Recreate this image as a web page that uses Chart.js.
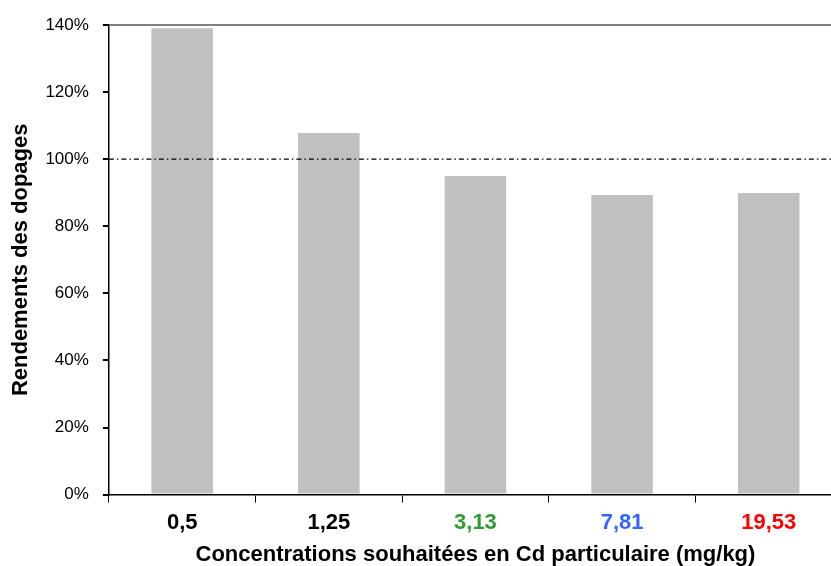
<!DOCTYPE html>
<html>
<head>
<meta charset="utf-8">
<script src="https://cdn.jsdelivr.net/npm/chart.js@4/dist/chart.umd.min.js"></script>
<style>
    html, body { margin: 0; padding: 0; background: #fff; overflow: hidden; width: 831px; height: 566px; }
    #wrap { width: 842px; height: 566px; }
</style>
</head>
<body>
<div id="wrap"><canvas id="chartDopage" width="842" height="566"></canvas></div>
<script>
// donnees
const categories = ['0,5', '1,25', '3,13', '7,81', '19,53']
const rendements = [139, 107.8, 95, 89.3, 89.9]
const labelColors = ['#000000', '#000000', '#339933', '#3366ff', '#ff0000']
const yTicks = [0, 20, 40, 60, 80, 100, 120, 140]
const reference = 100

// ligne tiretee a 100%
const refLine = {
    id: 'refLine',
    afterDatasetsDraw(chart) {
        let ctx = chart.ctx
        let area = chart.chartArea
        let y = chart.scales.y.getPixelForValue(reference)
        ctx.save()
        ctx.strokeStyle = '#000'
        ctx.lineWidth = 1.2
        ctx.setLineDash([5, 3, 1.5, 3])
        ctx.beginPath()
        ctx.moveTo(area.left, y)
        ctx.lineTo(area.right, y)
        ctx.stroke()
        ctx.restore()
    }
}

new Chart(document.getElementById('chartDopage'), {
    type: 'bar',
    data: {
        labels: categories,
        datasets: [{
            label: 'Rendements',
            data: rendements,
            backgroundColor: '#c0c0c0',
            categoryPercentage: 1,
            barPercentage: 0.42
        }]
    },
    options: {
        responsive: false,
        animation: false,
        layout: { padding: { top: 25, right: 0, left: 8, bottom: 0 } },
        plugins: {
            legend: { display: false },
            tooltip: { enabled: false }
        },
        scales: {
            x: {
                grid: {
                    offset: true,
                    drawOnChartArea: false,
                    tickLength: 8,
                    tickColor: '#000'
                },
                border: { color: '#000', width: 1.5 },
                ticks: {
                    color: ctx => labelColors[ctx.index],
                    font: { family: 'Liberation Sans', size: 22, weight: 'bold', lineHeight: 0.7 },
                    padding: 13
                },
                title: {
                    display: true,
                    text: 'Concentrations souhaitées en Cd particulaire (mg/kg)',
                    color: '#000',
                    font: { family: 'Liberation Sans', size: 22, weight: 'bold', lineHeight: 1.0 },
                    padding: { top: 0, bottom: 0 }
                }
            },
            y: {
                min: 0,
                max: 140,
                afterBuildTicks: axis => { axis.ticks = yTicks.map(v => ({ value: v })) },
                grid: {
                    color: ctx => ctx.tick && ctx.tick.value === 140 ? '#808080' : 'rgba(0,0,0,0)',
                    lineWidth: 2,
                    tickColor: '#000',
                    tickLength: 6
                },
                border: { color: '#000', width: 1.5 },
                ticks: {
                    color: '#000',
                    font: { family: 'Liberation Sans', size: 17 },
                    padding: 14,
                    callback: v => v + '%'
                },
                title: {
                    display: true,
                    text: 'Rendements des dopages',
                    color: '#000',
                    font: { family: 'Liberation Sans', size: 22, weight: 'bold' },
                    padding: { top: 0, bottom: -3 }
                }
            }
        }
    },
    plugins: [refLine]
})
</script>
</body>
</html>
